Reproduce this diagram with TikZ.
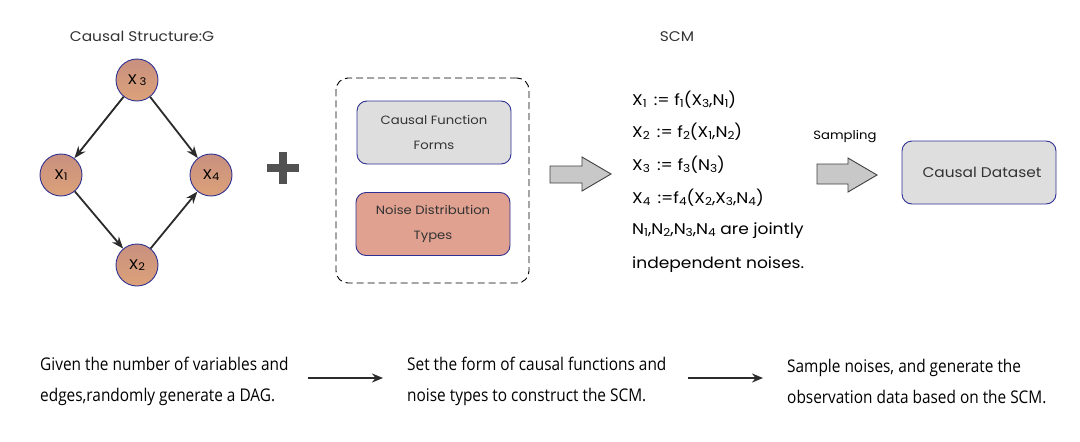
\documentclass[tikz,border=0pt]{standalone}
\usepackage{fontspec}
\setmainfont{Poppins}[FakeStretch=1.1]
\newfontfamily\bottomfont[FakeStretch=0.88]{Open Sans}
\usetikzlibrary{arrows.meta}
\definecolor{txt}{HTML}{333333}
\definecolor{nodeborder}{HTML}{2E3192}
\definecolor{ctop}{HTML}{C8907F}
\definecolor{cbot}{HTML}{DCA27A}
\definecolor{greybox}{HTML}{DEDEDE}
\definecolor{salmon}{HTML}{E0A190}
\definecolor{arrowfill}{HTML}{C8C8C8}
\definecolor{edge}{HTML}{2B2B2B}
\newcommand{\sbs}[1]{\raisebox{-0.2ex}{\fontsize{10.5}{10.5}\selectfont #1}}
\newcommand{\eqs}[1]{\raisebox{-0.2ex}{\fontsize{11}{11}\selectfont #1}}
\tikzset{
  var/.style={circle, draw=nodeborder, line width=0.9pt, top color=ctop, bottom color=cbot,
     minimum size=42pt, inner sep=0pt, font=\fontsize{14}{14}\selectfont, text=black},
  dagedge/.style={-{Stealth[length=12pt,width=9pt]}, draw=edge, line width=1.8pt},
  innerbox/.style={rounded corners=10pt, draw=nodeborder, line width=0.9pt,
     minimum width=154pt, minimum height=63pt, align=center,
     font=\fontsize{12}{25}\selectfont, text=txt},
  eq/.style={anchor=west, font=\fontsize{15.5}{15.5}\selectfont, text=black, inner sep=0pt},
  title/.style={font=\fontsize{14}{14}\selectfont, text=txt},
  bigarrow/.style={fill=arrowfill, draw=black!75, line width=0.9pt},
  bottomtext/.style={anchor=west, align=left, font=\bottomfont\fontsize{17.5}{31}\selectfont, text=black, inner sep=0pt},
  steparrow/.style={-{Stealth[length=11pt,width=9pt]}, draw=edge, line width=2.6pt}
}
\begin{document}
\begin{tikzpicture}[x=1pt,y=-1pt]
\useasboundingbox (0,0) rectangle (1080,442);
\fill[white] (0,0) rectangle (1080,442);

% DAG
\node[title] (gtitle) at (142,36) {Causal Structure:G};
\node[var] (x3) at (137,80) {X\,\sbs{3}};
\node[var] (x1) at (61,175) {X\sbs{1}};
\node[var] (x4) at (211,175) {X\sbs{4}};
\node[var] (x2) at (137,265) {X\sbs{2}};
\draw[dagedge] (x3) -- (x1);
\draw[dagedge] (x3) -- (x4);
\draw[dagedge] (x1) -- (x2);
\draw[dagedge] (x2) -- (x4);

% plus
\node (plus) at (283,168) {};
\fill[black!68] (267,164) rectangle (299,172);
\fill[black!68] (279,152) rectangle (287,184);

% dashed box
\node[draw=black, dash pattern=on 7pt off 4pt, line width=0.9pt, rounded corners=12pt, minimum width=193pt, minimum height=205pt] (dbox) at (432.5,180.5) {};
\node[innerbox, fill=greybox] (cff) at (434,132.5) {Causal Function\\Forms};
\node[innerbox, fill=salmon] (ndt) at (433,224) {Noise Distribution\\Types};

% big arrow 1
\draw[bigarrow] (550,166) -- (582,166) -- (582,157) -- (611,174) -- (582,191) -- (582,183) -- (550,183) -- cycle;

% SCM
\node[title] (scm) at (677,37) {SCM};
\node[eq] (e1) at (632,100) {X\eqs{1}\, := f\eqs{1}(X\eqs{3},N\eqs{1})};
\node[eq] (e2) at (632,132) {X\eqs{2}\, := f\eqs{2}(X\eqs{1},N\eqs{2})};
\node[eq] (e3) at (632,165) {X\eqs{3}\, := f\eqs{3}(N\eqs{3})};
\node[eq] (e4) at (632,198) {X\eqs{4}\, :=f\eqs{4}(X\eqs{2},X\eqs{3},N\eqs{4})};
\node[eq] (e5) at (632,231) {N\eqs{1},N\eqs{2},N\eqs{3},N\eqs{4} are jointly};
\node[eq] (e6) at (632,265) {independent noises.};

% sampling
\node[font=\fontsize{12}{12}\selectfont, text=black] (samp) at (845,137) {Sampling};
\draw[bigarrow] (817,164) -- (848,164) -- (848,158) -- (877,175) -- (848,192) -- (848,184) -- (817,184) -- cycle;

\node[innerbox, fill=greybox, minimum width=154pt, minimum height=63pt, font=\fontsize{14}{14}\selectfont] (cd) at (979,172.5) {\hspace*{6pt}Causal Dataset};

% bottom
\node[bottomtext] (t1) at (40,381) {Given the number of variables and\\edges,randomly generate a DAG.};
\node[bottomtext] (t2) at (407,381) {Set the form of causal functions and\\noise types to construct the SCM.};
\node[bottomtext] (t3) at (787,381) {Sample noises, and generate the\\observation data based on the SCM.};
\coordinate (a1s) at (308,378);
\coordinate (a1e) at (383,378);
\coordinate (a2s) at (688,378);
\coordinate (a2e) at (763,378);
\draw[steparrow] (a1s) -- (a1e);
\draw[steparrow] (a2s) -- (a2e);
\end{tikzpicture}
\end{document}
